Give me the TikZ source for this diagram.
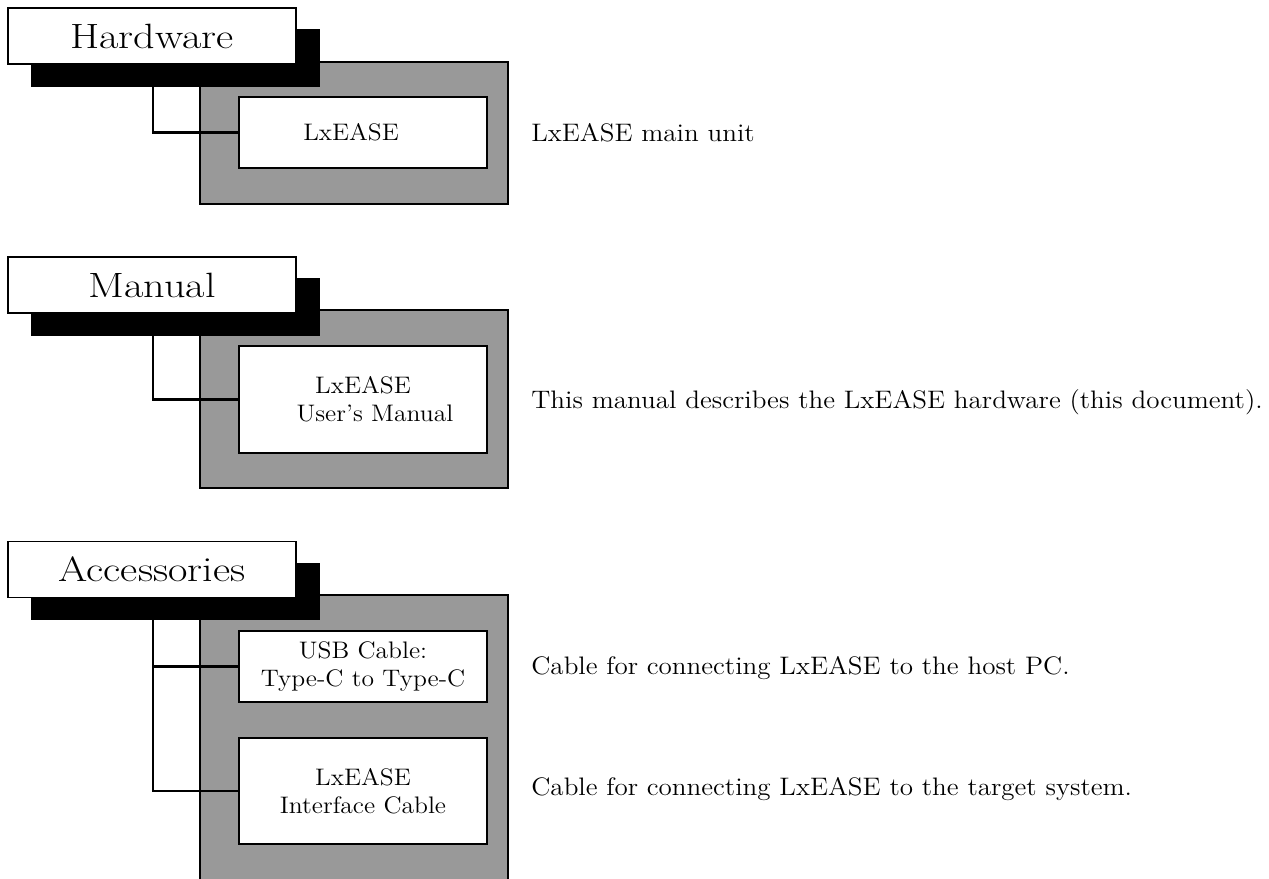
\documentclass[tikz,border=0pt]{standalone}
\usepackage{fontspec}
\newfontfamily\bodyfont{lmroman12-regular.otf}[Ligatures=TeX,FakeStretch=1.07]
\newfontfamily\titlefont{lmroman17-regular.otf}[Ligatures=TeX,FakeStretch=1.2]
\usepackage{tikz}
\usetikzlibrary{positioning}

\begin{document}
\begin{tikzpicture}[
    x=0.02cm, y=-0.02cm,
    grouptitle/.style={draw,line width=0.8pt,fill=white,minimum width=5.76cm,minimum height=1.12cm,font=\titlefont\fontsize{20}{24}\selectfont},
    shadow/.style={fill=black,minimum width=5.78cm,minimum height=1.16cm},
    group/.style={draw,line width=0.8pt,fill=black!40,minimum width=6.16cm},
    item/.style={draw,line width=0.8pt,fill=white,minimum width=4.96cm,align=center,font=\bodyfont\fontsize{13.6}{16}\selectfont},
    desc/.style={anchor=west,inner sep=0pt,font=\bodyfont\fontsize{14.4}{17}\selectfont},
    link/.style={line width=1.2pt}
]
\clip (0,0) rectangle (1269,879);

% Hardware group
\node[group,minimum height=2.84cm] (hwgroup) at (354,133) {};
\node[shadow] (hwshadow) at (175.5,58) {};
\node[grouptitle] (hwtitle) at (152,36) {Hardware};
\coordinate (hwtap) at (153,87);
\node[item,minimum height=1.42cm] (hwunit) at (363,132.5) {LxEASE\hspace*{1em}};
\draw[link] (hwtap) |- (hwunit.west);
\node[desc] (hwdesc) at (531,133) {LxEASE main unit};

% Manual group
\node[group,minimum height=3.56cm] (mngroup) at (354,399) {};
\node[shadow] (mnshadow) at (175.5,307) {};
\node[grouptitle] (mntitle) at (152,285) {Manual};
\coordinate (mntap) at (153,336);
\node[item,minimum height=2.14cm] (mnguide) at (363,399.5) {LxEASE\\\hspace*{1em}User's Manual};
\draw[link] (mntap) |- (mnguide.west);
\node[desc] (mndesc) at (531,402) {This manual describes the LxEASE hardware (this document).};

% Accessories group
\node[group,minimum height=6cm] (acgroup) at (354,745) {};
\node[shadow] (acshadow) at (175.5,591.5) {};
\node[grouptitle] (actitle) at (152,569.5) {Accessories};
\coordinate (actap) at (153,620);
\node[item,minimum height=1.42cm] (acusb) at (363,666.5) {USB Cable:\\Type-C to Type-C};
\node[item,minimum height=2.12cm] (accable) at (363,791) {LxEASE\\Interface Cable};
\draw[link] (actap) |- (acusb.west);
\draw[link] (actap) |- (accable.west);
\node[desc] (acusbdesc) at (531,668) {Cable for connecting LxEASE to the host PC.};
\node[desc] (accabledesc) at (531,789) {Cable for connecting LxEASE to the target system.};
\end{tikzpicture}
\end{document}
